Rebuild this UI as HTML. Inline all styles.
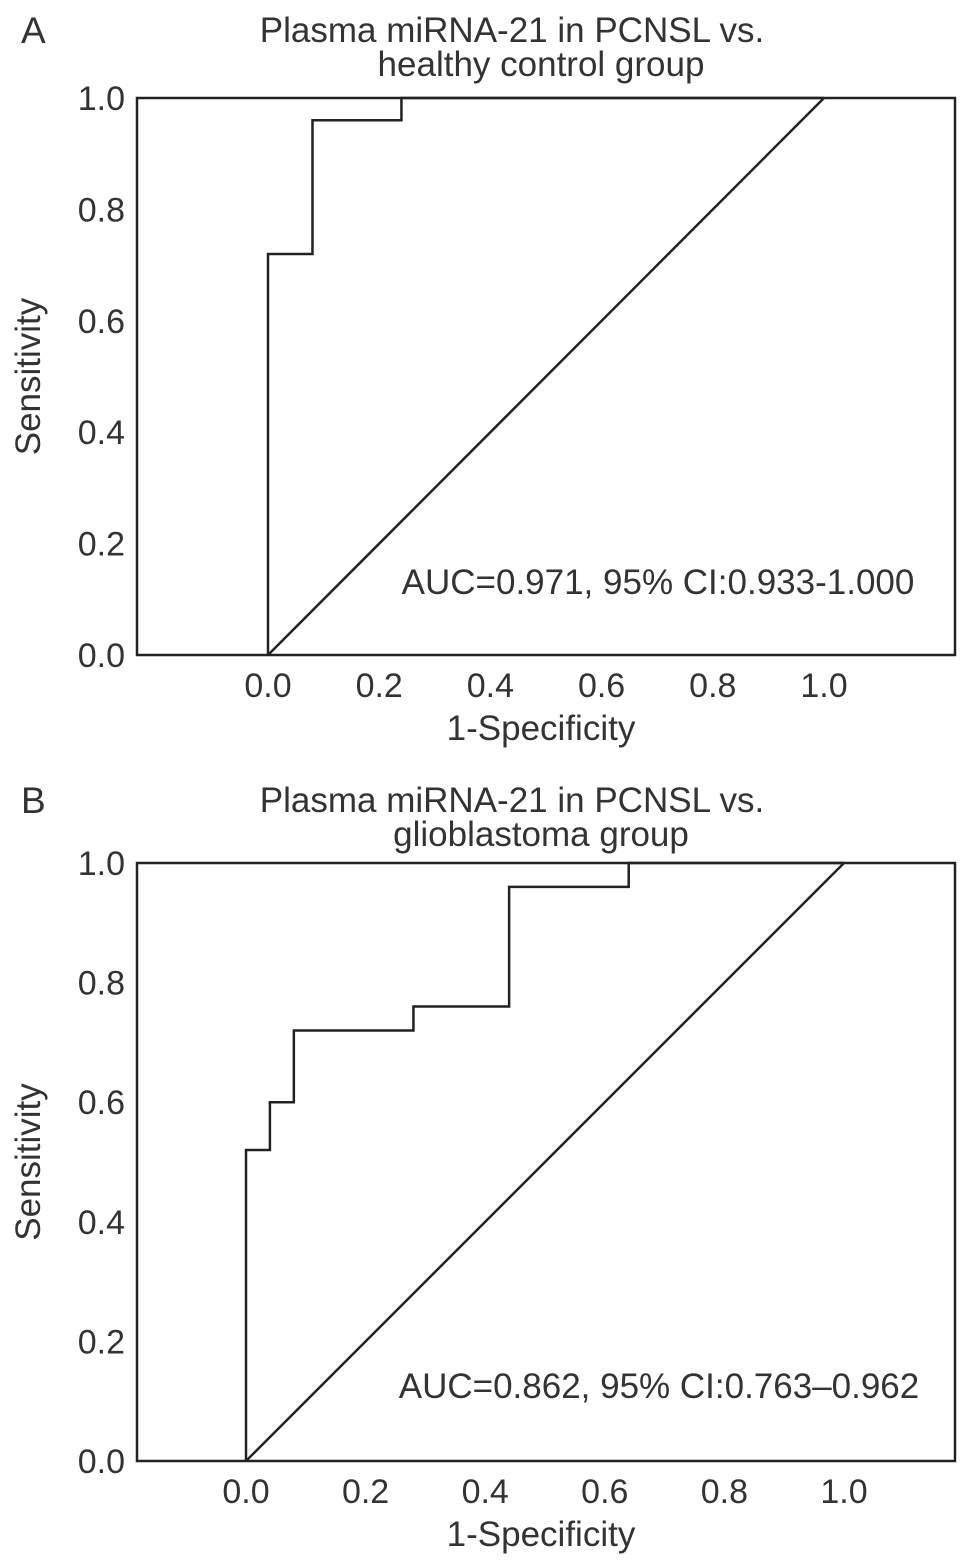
<!DOCTYPE html>
<html><head><meta charset="utf-8"><style>
html,body{margin:0;padding:0;background:#fff;}
svg{display:block;font-family:"Liberation Sans",sans-serif;fill:#333;}
</style></head><body>
<svg id="chart" width="969" height="1565" viewBox="0 0 969 1565"></svg>
<script>
// Panel A data
const aFpr = [0, 0, 0.08, 0.08, 0.24, 0.24, 1.0];
const aTpr = [0, 0.72, 0.72, 0.96, 0.96, 1.0, 1.0];
// Panel B data
const bFpr = [0, 0, 0.04, 0.04, 0.08, 0.08, 0.28, 0.28, 0.44, 0.44, 0.64, 0.64, 1.0];
const bTpr = [0, 0.52, 0.52, 0.60, 0.60, 0.72, 0.72, 0.76, 0.76, 0.96, 0.96, 1.0, 1.0];
const tickVals = [0, 0.2, 0.4, 0.6, 0.8, 1.0];
const tickLabels = ["0.0", "0.2", "0.4", "0.6", "0.8", "1.0"];

const NS = "http://www.w3.org/2000/svg";
const svg = document.getElementById('chart');
function mk(tag, attrs, parent, text){
  const e = document.createElementNS(NS, tag);
  for (const k in attrs) e.setAttribute(k, attrs[k]);
  if (text !== undefined) e.textContent = text;
  (parent || svg).appendChild(e);
  return e;
}
function panel(p){
  const g = mk('g', {});
  
  
  const sx = v => p.x0 + v * (p.x1 - p.x0);
  const sy = v => p.y0 - v * (p.y0 - p.y1);
  const letter = mk('text', {x: 21, y: p.ty1 + 13, 'font-size': 37}, g, p.id);
  
  
  const t1 = mk('text', {x: 512, y: p.ty1 + 12, 'font-size': 35, 'text-anchor': 'middle'}, g, p.title1);
  
  
  const t2 = mk('text', {x: p.t2x, y: p.ty1 + 46, 'font-size': 35, 'text-anchor': 'middle'}, g, p.title2);
  
  
  const box = mk('rect', {x: 137, y: p.y1, width: 818, height: p.y0 - p.y1, fill: 'none', stroke: '#222', 'stroke-width': 2.5}, g);
  
  
  tickVals.forEach((v, i) => {
    const yl = mk('text', {x: 125, y: sy(v) + 12, 'font-size': 34, 'text-anchor': 'end'}, g, tickLabels[i]);
    
    
    const xl = mk('text', {x: sx(v), y: p.y0 + 42, 'font-size': 34, 'text-anchor': 'middle'}, g, tickLabels[i]);
    
    
  });
  const xt = mk('text', {x: 541, y: p.y0 + 85, 'font-size': 35, 'text-anchor': 'middle'}, g, '1-Specificity');
  
  
  const cy = (p.y0 + p.y1) / 2;
  const yt = mk('text', {x: 40, y: cy, 'font-size': 35, 'text-anchor': 'middle', transform: 'rotate(-90 40 ' + cy + ')'}, g, 'Sensitivity');
  
  
  const diag = mk('line', {x1: sx(0), y1: sy(0), x2: sx(1), y2: sy(1), stroke: '#222', 'stroke-width': 2.5}, g);
  
  
  const pts = p.fpr.map((f, i) => sx(f) + ',' + sy(p.tpr[i])).join(' ');
  const roc = mk('polyline', {points: pts, fill: 'none', stroke: '#222', 'stroke-width': 2.5}, g);
  
  
  const auc = mk('text', {x: p.aucX, y: p.aucY, 'font-size': 35, 'text-anchor': 'middle'}, g, p.auc);
  
  
}
panel({id: 'A', x0: 268, x1: 824, y0: 655, y1: 98, ty1: 30, t2x: 541,
  title1: 'Plasma miRNA-21 in PCNSL vs.', title2: 'healthy control group',
  fpr: aFpr, tpr: aTpr, auc: 'AUC=0.971, 95% CI:0.933-1.000', aucX: 658, aucY: 594});
panel({id: 'B', x0: 246, x1: 844, y0: 1461, y1: 863, ty1: 800, t2x: 541,
  title1: 'Plasma miRNA-21 in PCNSL vs.', title2: 'glioblastoma group',
  fpr: bFpr, tpr: bTpr, auc: 'AUC=0.862, 95% CI:0.763\u20130.962', aucX: 659, aucY: 1398});
</script>
</body></html>
